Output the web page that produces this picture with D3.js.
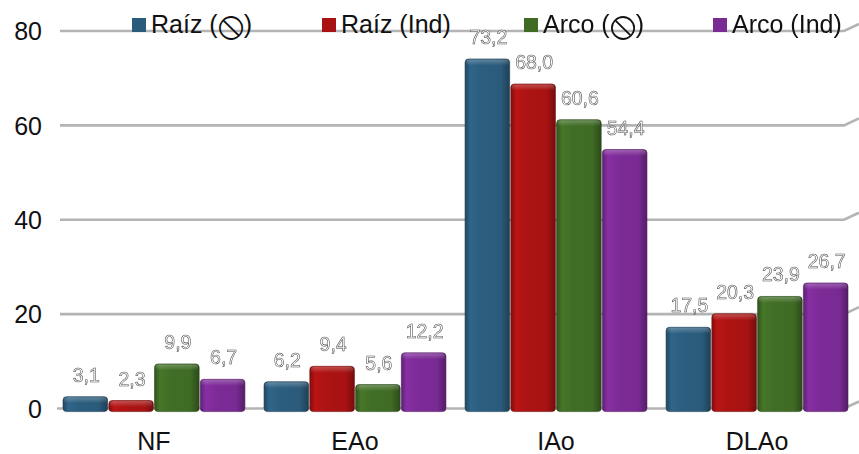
<!DOCTYPE html>
<html>
<head>
<meta charset="utf-8">
<script src="https://cdn.jsdelivr.net/npm/d3@7"></script>
<style>
  html, body { margin: 0; padding: 0; background: #fff; }
  svg { display: block; font-family: "Liberation Sans", Arial, Helvetica, sans-serif; }
  .vals { opacity: 0.995; will-change: transform; }
</style>
</head>
<body>
<svg id="chart" width="859" height="454"></svg>
<script>
// Categories, series and values
const categories = ["NF", "EAo", "IAo", "DLAo"];
const seriesBase = ["Raíz", "Raíz", "Arco", "Arco"];
const seriesTag = ["\u29B8", "Ind", "\u29B8", "Ind"];
const seriesColors = ["#2b5b7b", "#a81212", "#3f6b25", "#792a93"];
const raizNone = [3.1, 6.2, 73.2, 17.5];
const raizInd  = [2.3, 9.4, 68.0, 20.3];
const arcoNone = [9.9, 5.6, 60.6, 23.9];
const arcoInd  = [6.7, 12.2, 54.4, 26.7];
const yTicks = [0, 20, 40, 60, 80];

const seriesValues = [raizNone, raizInd, arcoNone, arcoInd];

const svg = d3.select("#chart");
const defs = svg.append("defs");

// Scales: back-wall grid and front plane where the bars stand
const yGrid = d3.scaleLinear().domain([0, 80]).range([408.5, 31]);
const yBar = d3.scaleLinear().domain([0, 80]).range([411.6, 26.2]);
const x0 = d3.scaleBand().domain(categories).range([63, 848]).paddingInner(0.095).paddingOuter(0);
const x1 = d3.scaleBand().domain(d3.range(seriesValues.length)).range([0, x0.bandwidth()]).paddingInner(0.025);

// Cylinder-like shading per series
seriesColors.forEach((c, i) => {
  const base = d3.color(c);
  const g = defs.append("linearGradient").attr("id", "grad" + i)
    .attr("x1", "0%").attr("x2", "100%").attr("y1", "0%").attr("y2", "0%");
  g.append("stop").attr("offset", "0%").attr("stop-color", base.darker(0.7));
  g.append("stop").attr("offset", "12%").attr("stop-color", base.brighter(0.3));
  g.append("stop").attr("offset", "35%").attr("stop-color", base.brighter(0.08));
  g.append("stop").attr("offset", "80%").attr("stop-color", base);
  g.append("stop").attr("offset", "100%").attr("stop-color", base.darker(1.0));
});
const topShade = defs.append("linearGradient").attr("id", "topShade")
  .attr("x1", "0").attr("x2", "0").attr("y1", "0").attr("y2", "1");
topShade.append("stop").attr("offset", "0").attr("stop-color", "#fff").attr("stop-opacity", 0.25);
topShade.append("stop").attr("offset", "1").attr("stop-color", "#fff").attr("stop-opacity", 0);

// Gridlines with perspective bend at the right end
const gridG = svg.append("g");
yTicks.forEach(t => {
  const y = yGrid(t);
  gridG.append("path")
    .attr("d", `M${t === 0 ? 57 : 60},${y} H844 L859,${y - 7}`)
    .attr("fill", "none")
    .attr("stroke", "#b4b4b4")
    .attr("stroke-width", 2.6);
});

// Y axis tick labels
const yAxis = d3.axisLeft(yGrid).tickValues(yTicks).tickSize(0).tickPadding(0).tickFormat(d3.format("d"));
const yAxisG = svg.append("g").attr("transform", "translate(42,0)").call(yAxis);
yAxisG.select(".domain").remove();
yAxisG.selectAll("text")
  .attr("font-size", 25)
  .attr("font-family", "Liberation Sans, Arial, sans-serif")
  .attr("fill", "#111")
  .attr("dy", "0.35em");

// Bars
const groups = svg.append("g").selectAll("g")
  .data(categories)
  .join("g")
  .attr("transform", d => `translate(${x0(d)},0)`);

groups.each(function (cat, ci) {
  const g = d3.select(this);
  const data = seriesValues.map((vals, si) => ({ si, v: vals[ci] }));
  g.selectAll("rect.bar").data(data).join("rect")
    .attr("class", "bar")
    .attr("x", d => x1(d.si))
    .attr("y", d => yBar(d.v))
    .attr("width", x1.bandwidth())
    .attr("height", d => yBar(0) - yBar(d.v))
    .attr("rx", 3.5).attr("ry", 3.5)
    .attr("fill", d => `url(#grad${d.si})`)
    .attr("stroke", d => d3.color(seriesColors[d.si]).darker(1.2))
    .attr("stroke-width", 0.6);
  g.selectAll("rect.cap").data(data).join("rect")
    .attr("class", "cap")
    .attr("x", d => x1(d.si) + 1)
    .attr("y", d => yBar(d.v) + 0.5)
    .attr("width", x1.bandwidth() - 2)
    .attr("height", d => Math.min(6, yBar(0) - yBar(d.v)))
    .attr("rx", 3).attr("ry", 3)
    .attr("fill", "url(#topShade)");
  g.append("g").attr("class", "vals")
    .selectAll("text.val").data(data).join("text")
    .attr("class", "val")
    .attr("x", d => x1(d.si) + x1.bandwidth() / 2 + 1)
    .attr("y", d => yBar(d.v) - 15)
    .attr("text-anchor", "middle")
    .attr("font-size", 19.5)
    .attr("fill", "#ffffff")
    .attr("stroke", "#4a4a4a")
    .attr("stroke-width", 0.55)
    .text(d => d3.format(".1f")(d.v).replace(".", ","));
});

// Category labels
const xAxis = d3.axisBottom(x0).tickSize(0).tickPadding(0);
const xAxisG = svg.append("g").attr("transform", "translate(0,450)").call(xAxis);
xAxisG.select(".domain").remove();
xAxisG.selectAll("text")
  .attr("font-size", 25)
  .attr("font-family", "Liberation Sans, Arial, sans-serif")
  .attr("fill", "#111")
  .attr("dy", 0);

// Legend
const legendX = [132, 322, 524, 713];
const legend = svg.append("g").selectAll("g")
  .data(seriesBase)
  .join("g")
  .attr("transform", (d, i) => `translate(${legendX[i]},0)`);
legend.append("rect")
  .attr("x", 0).attr("y", 18).attr("width", 14).attr("height", 14)
  .attr("fill", (d, i) => seriesColors[i]);
const legendText = legend.append("text")
  .attr("x", 19).attr("y", 33)
  .attr("font-size", 25)
  .attr("fill", "#111");
legendText.append("tspan").text(d => d + " (");
legendText.append("tspan")
  .attr("font-size", (d, i) => seriesTag[i] === "Ind" ? 25 : 40)
  .attr("dy", (d, i) => seriesTag[i] === "Ind" ? 0 : 5)
  .text((d, i) => seriesTag[i]);
legendText.append("tspan")
  .attr("dy", (d, i) => seriesTag[i] === "Ind" ? 0 : -5)
  .text(")");
</script>
</body>
</html>
